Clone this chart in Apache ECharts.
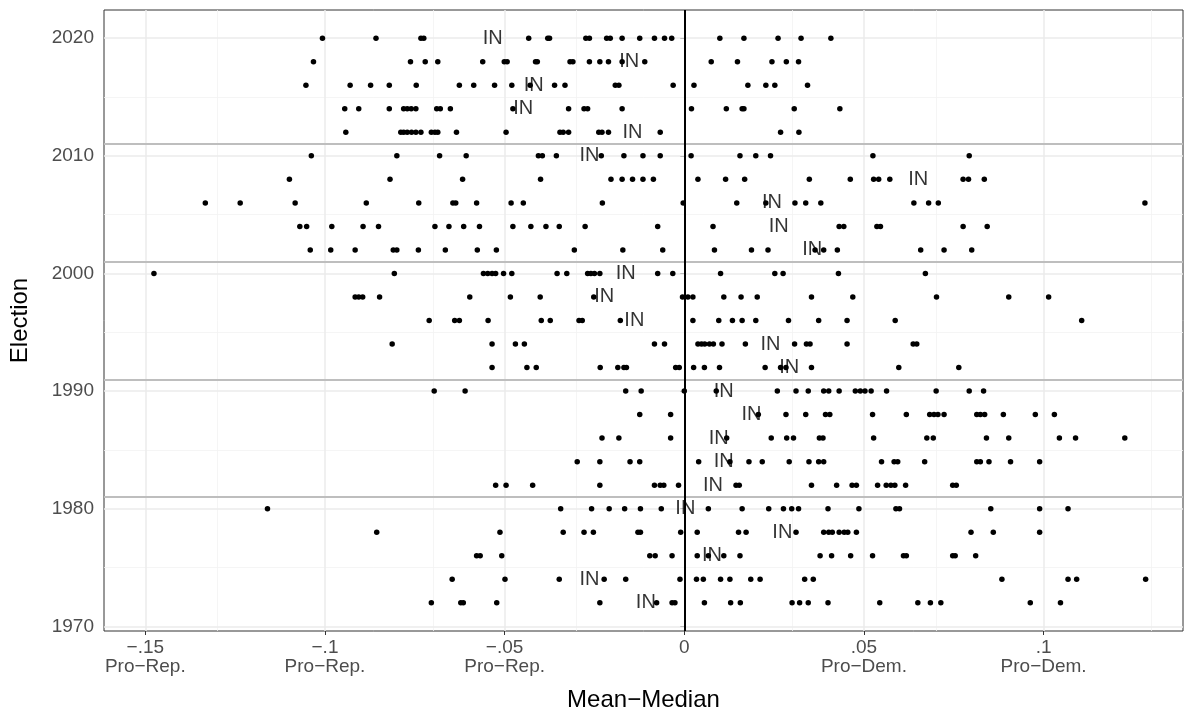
<!DOCTYPE html>
<html><head><meta charset="utf-8">
<script src="https://cdn.jsdelivr.net/npm/echarts@6/dist/echarts.min.js"></script>
<style>html,body{margin:0;padding:0;background:#fff}#c{width:1190px;height:717px}</style>
</head><body><div id="c"></div>
<script>
const years = [1972,1974,1976,1978,1980,1982,1984,1986,1988,1990,1992,1994,1996,1998,2000,2002,2004,2006,2008,2010,2012,2014,2016,2018,2020];
const v2020 = [-0.1007,-0.0858,-0.0733,-0.0725,-0.0433,-0.0380,-0.0375,-0.0274,-0.0264,-0.0216,-0.0206,-0.0173,-0.0124,-0.0083,-0.0055,-0.0035,0.0099,0.0166,0.0261,0.0325,0.0408];
const v2018 = [-0.1032,-0.0762,-0.0721,-0.0686,-0.0561,-0.0501,-0.0493,-0.0414,-0.0409,-0.0318,-0.0310,-0.0264,-0.0235,-0.0211,-0.0173,-0.0110,0.0075,0.0148,0.0244,0.0284,0.0318];
const v2016 = [-0.1053,-0.0930,-0.0873,-0.0821,-0.0746,-0.0626,-0.0586,-0.0528,-0.0480,-0.0429,-0.0361,-0.0332,-0.0192,-0.0182,-0.0031,0.0027,0.0177,0.0227,0.0252,0.0343];
const v2014 = [-0.0945,-0.0906,-0.0821,-0.0781,-0.0771,-0.0760,-0.0747,-0.0689,-0.0679,-0.0651,-0.0477,-0.0322,-0.0279,-0.0269,-0.0173,0.0020,0.0117,0.0161,0.0166,0.0306,0.0433];
const v2012 = [-0.0942,-0.0789,-0.0781,-0.0771,-0.0759,-0.0747,-0.0733,-0.0704,-0.0694,-0.0686,-0.0634,-0.0496,-0.0346,-0.0337,-0.0322,-0.0238,-0.0229,-0.0211,-0.0067,0.0268,0.0319];
const v2010 = [-0.1038,-0.0800,-0.0681,-0.0607,-0.0406,-0.0395,-0.0356,-0.0231,-0.0168,-0.0115,-0.0067,0.0019,0.0155,0.0199,0.0240,0.0525,0.0793];
const v2008 = [-0.1099,-0.0819,-0.0617,-0.0400,-0.0204,-0.0173,-0.0144,-0.0115,-0.0086,0.0038,0.0115,0.0168,0.0348,0.0462,0.0527,0.0541,0.0572,0.0776,0.0791,0.0835];
const v2006 = [-0.1333,-0.1236,-0.1083,-0.0885,-0.0739,-0.0644,-0.0636,-0.0578,-0.0482,-0.0448,-0.0228,-0.0003,0.0146,0.0227,0.0308,0.0338,0.0380,0.0639,0.0680,0.0707,0.1282];
const v2004 = [-0.1070,-0.1051,-0.0981,-0.0894,-0.0851,-0.0694,-0.0655,-0.0614,-0.0570,-0.0477,-0.0427,-0.0385,-0.0348,-0.0276,-0.0074,0.0080,0.0431,0.0444,0.0536,0.0546,0.0776,0.0843];
const v2002 = [-0.1041,-0.0984,-0.0916,-0.0810,-0.0800,-0.0740,-0.0665,-0.0576,-0.0523,-0.0306,-0.0171,-0.0060,0.0084,0.0187,0.0233,0.0364,0.0388,0.0426,0.0658,0.0723,0.0800];
const v2000 = [-0.1476,-0.0807,-0.0559,-0.0547,-0.0535,-0.0525,-0.0503,-0.0480,-0.0354,-0.0327,-0.0269,-0.0260,-0.0250,-0.0235,-0.0074,-0.0032,0.0101,0.0252,0.0275,0.0429,0.0671];
const v1998 = [-0.0916,-0.0906,-0.0895,-0.0848,-0.0597,-0.0484,-0.0401,-0.0252,-0.0005,0.0010,0.0024,0.0110,0.0158,0.0203,0.0354,0.0469,0.0702,0.0903,0.1014];
const v1996 = [-0.0710,-0.0639,-0.0626,-0.0546,-0.0398,-0.0373,-0.0293,-0.0284,-0.0178,0.0024,0.0096,0.0134,0.0161,0.0199,0.0290,0.0374,0.0453,0.0587,0.1106];
const v1994 = [-0.0813,-0.0535,-0.0470,-0.0445,-0.0083,-0.0055,0.0038,0.0048,0.0057,0.0070,0.0081,0.0105,0.0170,0.0307,0.0340,0.0350,0.0453,0.0637,0.0647];
const v1992 = [-0.0535,-0.0438,-0.0412,-0.0234,-0.0185,-0.0168,-0.0161,-0.0024,-0.0014,0.0026,0.0056,0.0098,0.0225,0.0268,0.0283,0.0354,0.0597,0.0764];
const v1990 = [-0.0696,-0.0610,-0.0163,-0.0120,0.0000,0.0089,0.0259,0.0311,0.0345,0.0388,0.0402,0.0431,0.0476,0.0490,0.0503,0.0520,0.0563,0.0701,0.0793,0.0833];
const v1988 = [-0.0124,-0.0038,0.0206,0.0283,0.0338,0.0393,0.0405,0.0524,0.0618,0.0683,0.0695,0.0706,0.0723,0.0814,0.0824,0.0836,0.0888,0.0977,0.1030];
const v1986 = [-0.0229,-0.0182,-0.0038,0.0118,0.0242,0.0285,0.0304,0.0376,0.0386,0.0527,0.0675,0.0693,0.0841,0.0903,0.1044,0.1089,0.1226];
const v1984 = [-0.0298,-0.0235,-0.0151,-0.0124,0.0040,0.0127,0.0180,0.0217,0.0292,0.0347,0.0374,0.0388,0.0549,0.0584,0.0594,0.0669,0.0814,0.0824,0.0848,0.0908,0.0989];
const v1982 = [-0.0525,-0.0496,-0.0422,-0.0235,-0.0083,-0.0067,-0.0057,-0.0016,0.0144,0.0153,0.0354,0.0424,0.0467,0.0479,0.0538,0.0562,0.0575,0.0586,0.0616,0.0747,0.0757];
const v1980 = [-0.1160,-0.0344,-0.0258,-0.0209,-0.0166,-0.0122,-0.0064,0.0067,0.0161,0.0235,0.0276,0.0299,0.0318,0.0400,0.0486,0.0589,0.0599,0.0853,0.0989,0.1068];
const v1978 = [-0.0856,-0.0513,-0.0337,-0.0279,-0.0253,-0.0129,-0.0122,-0.0010,0.0036,0.0151,0.0172,0.0311,0.0388,0.0402,0.0412,0.0431,0.0445,0.0455,0.0479,0.0798,0.0860,0.0989];
const v1976 = [-0.0578,-0.0568,-0.0508,-0.0096,-0.0081,-0.0034,0.0036,0.0067,0.0110,0.0155,0.0378,0.0410,0.0463,0.0524,0.0610,0.0618,0.0747,0.0754,0.0811];
const v1974 = [-0.0646,-0.0499,-0.0348,-0.0223,-0.0163,-0.0012,0.0034,0.0053,0.0101,0.0127,0.0185,0.0211,0.0335,0.0359,0.0884,0.1068,0.1092,0.1284];
const v1972 = [-0.0704,-0.0622,-0.0615,-0.0522,-0.0235,-0.0077,-0.0034,-0.0026,0.0056,0.0129,0.0156,0.0300,0.0321,0.0345,0.0400,0.0544,0.0650,0.0685,0.0714,0.0963,0.1047];
const rows = [v1972,v1974,v1976,v1978,v1980,v1982,v1984,v1986,v1988,v1990,v1992,v1994,v1996,v1998,v2000,v2002,v2004,v2006,v2008,v2010,v2012,v2014,v2016,v2018,v2020];

const inValues = [-0.0107,-0.0264,0.0077,0.0273,0.0003,0.0080,0.0110,0.0096,0.0187,0.0110,0.0292,0.0240,-0.0139,-0.0223,-0.0163,0.0356,0.0263,0.0244,0.0651,-0.0264,-0.0144,-0.0448,-0.0419,-0.0153,-0.0533];

const xTicks = [-0.15,-0.1,-0.05,0,0.05,0.1];
const xTickLabels = ['\u2212.15\nPro\u2212Rep.','\u2212.1\nPro\u2212Rep.','\u2212.05\nPro\u2212Rep.','0','.05\nPro\u2212Dem.','.1\nPro\u2212Dem.'];
const xMinor = [-0.125,-0.075,-0.025,0.025,0.075,0.125];
const yTicks = [1970,1980,1990,2000,2010,2020];
const yMinor = [1975,1985,1995,2005,2015];
const redistricting = [1981,1991,2001,2011];

const pts = [];
rows.forEach((r,i)=>r.forEach(v=>pts.push([v, years[i]])));
const inPts = inValues.map((v,i)=>[v, years[i]]);

const FONT = '"Liberation Sans", Arial, sans-serif';
const gridLines = [];
xMinor.forEach(v=>gridLines.push({xAxis:v, lineStyle:{color:'#f2f2f2', width:0.8, type:'solid'}}));
yMinor.forEach(v=>gridLines.push({yAxis:v, lineStyle:{color:'#f2f2f2', width:0.8, type:'solid'}}));
xTicks.forEach(v=>gridLines.push({xAxis:v, lineStyle:{color:'#ebebeb', width:1.5, type:'solid'}}));
yTicks.forEach(v=>gridLines.push({yAxis:v, lineStyle:{color:'#ebebeb', width:1.5, type:'solid'}}));
const refLines = redistricting.map(v=>({yAxis:v, lineStyle:{color:'#bebebe', width:2, type:'solid'}}));
refLines.push({xAxis:0, lineStyle:{color:'#000', width:2, type:'solid'}});

const chart = echarts.init(document.getElementById('c'), null, {renderer:'canvas'});
chart.setOption({
  animation:false,
  backgroundColor:'#fff',
  grid:{left:102, right:7, top:10, bottom:84, show:true, borderColor:'#333', borderWidth:1, backgroundColor:'transparent', z:0},
  xAxis:{type:'value', min:-0.1615, max:0.1388,
    splitLine:{show:false}, axisLine:{show:false},
    axisTick:{show:true, customValues:xTicks, length:4, lineStyle:{color:'#333', width:1}},
    axisLabel:{customValues:xTicks, color:'#4d4d4d', fontSize:19, fontFamily:FONT, lineHeight:19, margin:7,
      formatter:(v)=>{const i=xTicks.findIndex(t=>Math.abs(t-v)<1e-9); return i>=0?xTickLabels[i]:'';}},
    name:'Mean\u2212Median', nameLocation:'middle', nameGap:57,
    nameTextStyle:{color:'#000', fontSize:24, fontFamily:FONT}},
  yAxis:{type:'value', min:1969.6, max:2022.4,
    splitLine:{show:false}, axisLine:{show:false},
    axisTick:{show:true, customValues:yTicks, length:4, lineStyle:{color:'#333', width:1}},
    axisLabel:{customValues:yTicks, color:'#4d4d4d', fontSize:19, fontFamily:FONT, margin:10,
      formatter:(v)=>String(Math.round(v))},
    name:'Election', nameLocation:'middle', nameGap:72, nameRotate:90,
    nameTextStyle:{color:'#000', fontSize:24, fontFamily:FONT}},
  series:[
    {type:'line', data:[], silent:true, z:1,
      markLine:{silent:true, z:1, symbol:['none','none'], label:{show:false}, animation:false, data:gridLines}},
    {type:'line', data:[], silent:true, z:2,
      markLine:{silent:true, z:2, symbol:['none','none'], label:{show:false}, animation:false, data:refLines}},
    {type:'scatter', data:pts, symbol:'circle', symbolSize:5.5, itemStyle:{color:'#000', opacity:1}, silent:true, z:10},
    {type:'scatter', data:inPts, symbolSize:0, silent:true, z:11,
      label:{show:true, position:'inside', formatter:'IN', color:'#000', fontSize:20, fontFamily:FONT, textBorderWidth:0}}
  ]
});
</script></body></html>
